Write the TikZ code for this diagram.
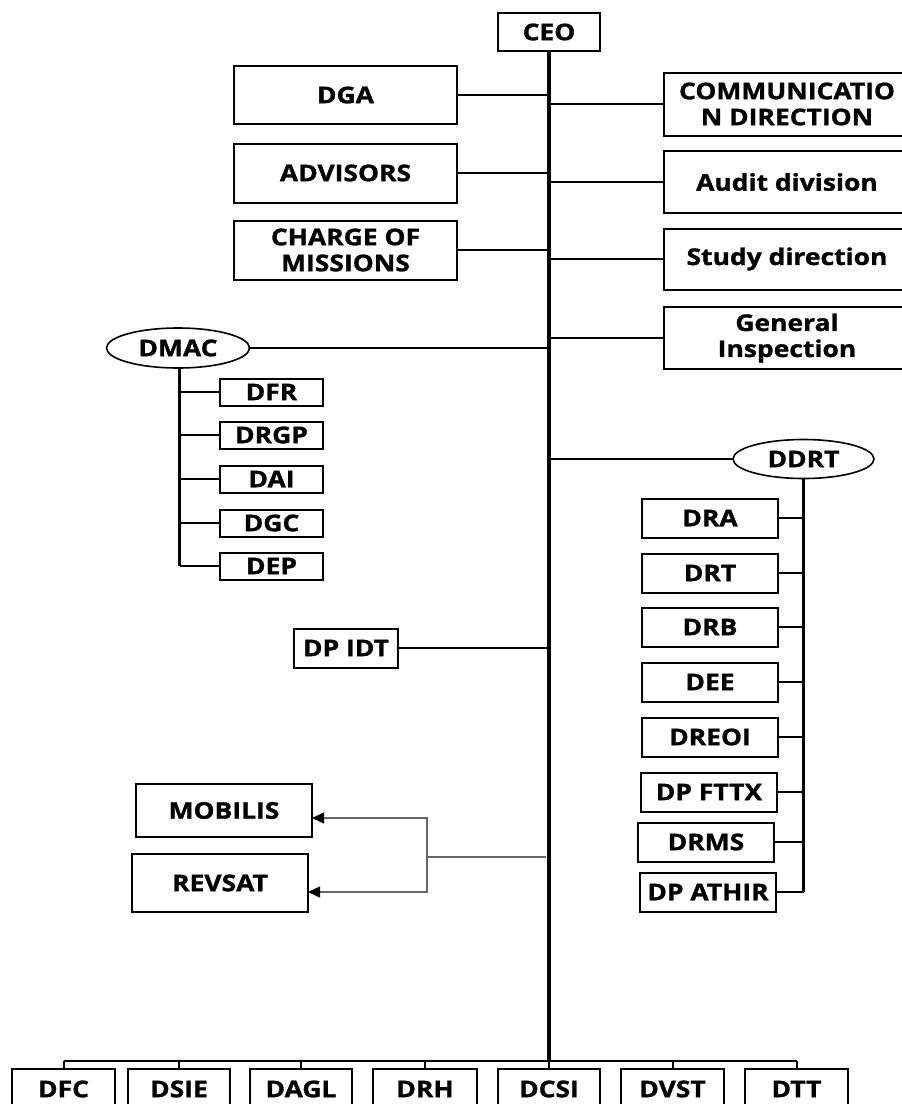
\documentclass[tikz,border=0pt]{standalone}
\usepackage{fontspec}
\setmainfont{Open Sans}[FakeStretch=1.15, BoldFeatures={FakeBold=1.2}]
\usetikzlibrary{shapes.geometric,arrows.meta}
\tikzset{
  unit/.style={draw, line width=2pt, inner sep=0pt, outer sep=0pt, align=center,
    font=\fontsize{23}{26}\selectfont\bfseries},
  oval/.style={unit, ellipse, line width=1.6pt},
  link/.style={line width=2pt},
  spine/.style={line width=3.4pt},
  branch/.style={line width=2.6pt},
  feed/.style={line width=1.3pt, draw=black!60},
  feedarrow/.style={feed, -{Triangle[length=12pt,width=11pt,color=black]}},
}
\begin{document}
\begin{tikzpicture}[x=1pt, y=-1pt]
\path[use as bounding box] (0,0) rectangle (902,1104);
\clip (0,0) rectangle (902,1104);

% head of the organisation
\node[unit, minimum width=102pt, minimum height=38pt] (ceo) at (549,32) {CEO};
\coordinate (hub) at (549,1061);

% staff units on the left
\node[unit, minimum width=223pt, minimum height=58pt] (dga) at (345.5,95) {DGA};
\node[unit, minimum width=223pt, minimum height=59pt] (adv) at (345.5,173) {ADVISORS};
\node[unit, minimum width=223pt, minimum height=59pt] (chm) at (345.5,250) {CHARGE OF\\MISSIONS};

% staff units on the right
\node[unit, minimum width=246pt, minimum height=63pt] (com) at (787,104) {COMMUNICATIO\\N DIRECTION};
\node[unit, minimum width=246pt, minimum height=62pt] (aud) at (787,182) {Audit division};
\node[unit, minimum width=246pt, minimum height=61pt] (std) at (787,259) {Study direction};
\node[unit, minimum width=246pt, minimum height=62pt] (gin) at (787,338) {General\\Inspection};

% DMAC and its directions
\node[oval, minimum width=143pt, minimum height=40pt] (dmac) at (178,348) {DMAC};
\foreach \n/\t/\y in {dfr/DFR/392, drgp/DRGP/435, dai/DAI/479, dgc/DGC/523, dep/DEP/566}
  \node[unit, minimum width=103pt, minimum height=27pt] (\n) at (271.5,\y) {\t};

% DDRT and its directions
\node[oval, minimum width=141pt, minimum height=39pt] (ddrt) at (803.5,459) {DDRT};
\foreach \n/\t/\x/\y in {dra/DRA/710/518, drt/DRT/710/573, drb/DRB/710/627,
    dee/DEE/710/682, dreoi/DREOI/710/737, fttx/DP FTTX/709/792,
    drms/DRMS/706/842, athir/DP ATHIR/708/892}
  \node[unit, minimum width=136pt, minimum height=39pt] (\n) at (\x,\y) {\t};

% project direction
\node[unit, minimum width=104pt, minimum height=39pt] (idt) at (346,648) {DP IDT};

% subsidiaries
\node[unit, minimum width=176pt, minimum height=53pt] (mob) at (224,810.5) {MOBILIS};
\node[unit, minimum width=176pt, minimum height=58pt] (rev) at (220,883) {REVSAT};

% central directions along the bottom
\foreach \n/\t/\x/\w in {dfc/DFC/63.5/103, dsie/DSIE/179/102, dagl/DAGL/301/102,
    drh/DRH/425/104, dcsi/DCSI/549/102, dvst/DVST/672.5/103, dtt/DTT/796.5/103}
  \node[unit, minimum width=\w pt, minimum height=40pt] (\n) at (\x,1089) {\t};

% main spine
\draw[spine] (ceo.south) -- (hub);

% left staff connectors
\foreach \n in {dga, adv, chm, dmac, idt}
  \draw[link] (\n.east) -- (\n.east -| ceo.south);
% right staff connectors
\foreach \n in {com, aud, std, gin, ddrt}
  \draw[link] (\n.west) -- (\n.west -| ceo.south);

% DMAC branch
\draw[line width=2.2pt] (dmac.south) ++(1.5,0) coordinate (dmacfoot) -- (dmacfoot |- dep.west);
\foreach \n in {dfr, drgp, dai, dgc, dep}
  \draw[link] (\n.west) -- (\n.west -| dmacfoot);

% DDRT branch
\draw[branch] (ddrt.south) -- (ddrt.south |- athir.east);
\foreach \n in {dra, drt, drb, dee, dreoi, fttx, drms, athir}
  \draw[link] (\n.east) -- (\n.east -| ddrt.south);

% subsidiaries feed
\coordinate (tap) at (546,857);
\coordinate (split) at (427,857);
\draw[feed] (tap) -- (split);
\draw[feedarrow] (split) |- ([yshift=-7.5pt]mob.east);
\draw[feedarrow] (split) |- ([yshift=-9pt]rev.east);

% bottom bar
\draw[line width=2.2pt] (dfc.north |- hub) -- (dtt.north |- hub);
\foreach \n in {dfc, dsie, dagl, drh, dcsi, dvst, dtt}
  \draw[link] (\n.north) -- (\n.north |- hub);
\end{tikzpicture}
\end{document}
